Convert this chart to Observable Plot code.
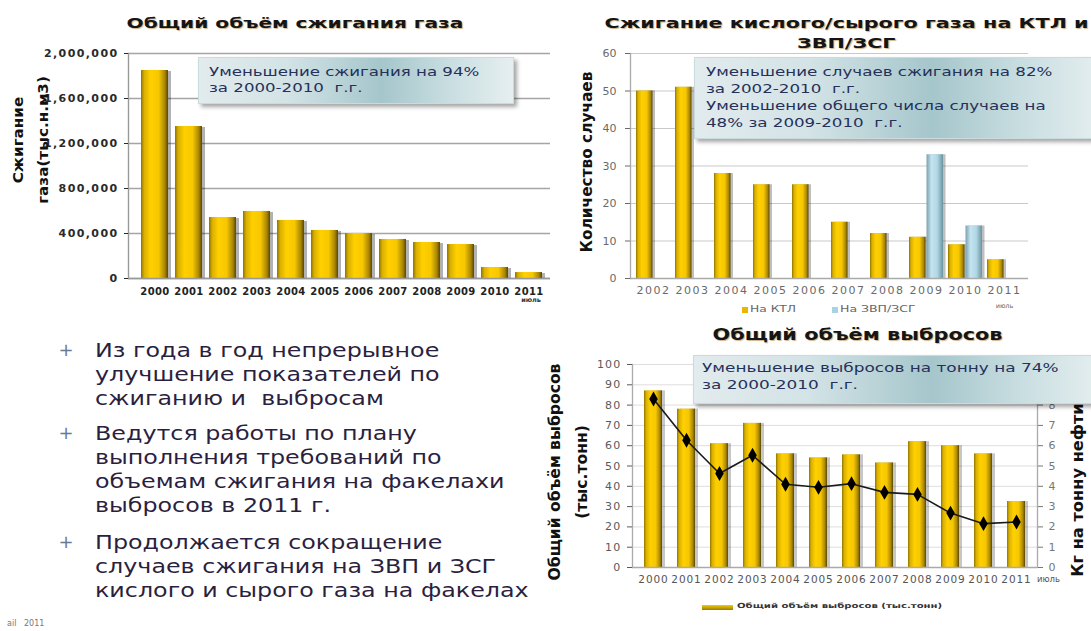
<!DOCTYPE html>
<html lang="ru"><head><meta charset="utf-8">
<script src="https://cdn.jsdelivr.net/npm/d3@7"></script>
<script src="https://cdn.jsdelivr.net/npm/@observablehq/plot@0.6"></script>
<style>
html,body{margin:0;padding:0;background:#fff;}
#page{position:relative;width:1091px;height:631px;overflow:hidden;font-family:"DejaVu Sans",Verdana,sans-serif;}
#page svg{position:absolute;}
.t{position:absolute;white-space:pre;display:inline-block;}
.title{font-weight:bold;color:#151515;font-size:14px;line-height:20px;text-align:center;text-shadow:0.7px 0.7px 0.8px rgba(150,90,0,0.45);}
.box{position:absolute;background:linear-gradient(90deg,#e2ebed 0%,#d3e3e6 28%,#a5c6cb 58%,#c9dee1 80%,#e6eff0 100%);box-shadow:3px 3px 4px rgba(0,0,0,0.35);border:1px solid #cbdadd;}
.boxtxt{color:#25315a;font-size:12.5px;}
.ylab{font-weight:bold;color:#111;text-align:center;}
.bul{color:#2b1f3f;font-size:20px;line-height:24px;}
.plus{color:#6b7a99;font-size:18px;line-height:24px;}
.leg{color:#666;font-size:8px;}
</style></head><body><div id="page"></div>
<script>
// ---------- data ----------
const gasYears = ["2000","2001","2002","2003","2004","2005","2006","2007","2008","2009","2010","2011"];
const gasVolume = [1849000,1351000,542000,596000,516000,427000,400000,347000,320000,302000,98000,53000];
const gasTicks = [0,400000,800000,1200000,1600000,2000000];
const gasNote = [{year:"2011", note:"июль"}];

const caseYears = ["2002","2003","2004","2005","2006","2007","2008","2009","2010","2011"];
const casesKTL = [50,51,28,25,25,15,12,11,9,5];
const casesZVP = [0,0,0,0,0,0,0,33,14,0];
const caseTicks = [0,10,20,30,40,50,60];
const caseSeries = ["На КТЛ","На ЗВП/ЗСГ"];
const caseNote = [{year:"2011", note:"июль"}];

const emisYears = ["2000","2001","2002","2003","2004","2005","2006","2007","2008","2009","2010","2011"];
const emisTotal = [87,78,61,71,56,54,55.5,51.5,62,60,56,32.5];
const emisPerTon = [8.3,6.27,4.63,5.53,4.1,3.95,4.13,3.7,3.6,2.68,2.16,2.24];
const emisTicks = [0,10,20,30,40,50,60,70,80,90,100];
const perTonTicks = [0,1,2,3,4,5,6,7,8];
const emisNote = [{year:"2011", note:"июль"}];

const titles = ["Общий объём сжигания газа","Сжигание кислого/сырого газа на КТЛ и","ЗВП/ЗСГ","Общий объём выбросов"];
const notes = ["Уменьшение сжигания на 94%\nза 2000-2010  г.г.",
  "Уменьшение случаев сжигания на 82%\nза 2002-2010  г.г.\nУменьшение общего числа случаев на\n48% за 2009-2010  г.г.",
  "Уменьшение выбросов на тонну на 74%\nза 2000-2010  г.г."];
const axisTitles = ["Сжигание\nгаза(тыс.н.м3)","Количество случаев","Общий объём выбросов\n(тыс.тонн)","Кг на тонну нефти"];
const legendEmis = "Общий объём выбросов (тыс.тонн)";
const bullets = ["Из года в год непрерывное\nулучшение показателей по\nсжиганию и  выбросам",
  "Ведутся работы по плану\nвыполнения требований по\nобъемам сжигания на факелахи\nвыбросов в 2011 г.",
  "Продолжается сокращение\nслучаев сжигания на ЗВП и ЗСГ\nкислого и сырого газа на факелах"];
const footer = "ail   2011";

// ---------- helpers ----------
const page = document.getElementById("page");
function gradients(svg, p){
  const defs = d3.select(svg).insert("defs", ":first-child");
  const mk = (id, stops) => {
    const g = defs.append("linearGradient").attr("id", p+id).attr("x1",0).attr("x2",1).attr("y1",0).attr("y2",0);
    stops.forEach(([o,c]) => g.append("stop").attr("offset",o).attr("stop-color",c));
  };
  mk("gold", [[0,"#8f7400"],[0.12,"#d9b000"],[0.35,"#ffd000"],[0.65,"#f7c700"],[0.88,"#a98700"],[1,"#5a4600"]]);
  mk("blue", [[0,"#79a2ae"],[0.3,"#c4e4ef"],[0.65,"#b2d7e5"],[1,"#6b93a0"]]);
}
function place(svg, left, top){ svg.style.left = left+"px"; svg.style.top = top+"px"; page.appendChild(svg); }
function spacing(svg, label, ls){ d3.select(svg).selectAll(`g[aria-label="${label}"] text`).style("letter-spacing", ls); }
function addText(txt, cls, o){
  const el = document.createElement("div");
  el.className = "t " + cls; el.textContent = txt;
  if (o.style) Object.assign(el.style, o.style);
  page.appendChild(el);
  const ow = el.offsetWidth, oh = el.offsetHeight;
  const k = o.k !== undefined ? o.k : (o.w ? o.w/ow : 1);
  if (o.rot !== undefined){
    el.style.left = (o.cx - ow/2)+"px"; el.style.top = (o.cy - oh/2)+"px";
    el.style.transformOrigin = "50% 50%"; el.style.transform = `rotate(${o.rot}deg) scaleX(${k})`;
  } else if (o.cx !== undefined){
    el.style.left = (o.cx - ow/2)+"px"; el.style.top = o.y+"px";
    el.style.transformOrigin = "50% 0"; el.style.transform = `scaleX(${k})`;
  } else {
    el.style.left = o.x+"px"; el.style.top = o.y+"px";
    el.style.transformOrigin = "0 0"; el.style.transform = `scaleX(${k})`;
  }
  return {el, k, ow};
}
const font = {fontFamily:"DejaVu Sans, Verdana, sans-serif", background:"none", overflow:"visible"};

// ---------- chart 1: gas flaring volume ----------
const gasRows = gasYears.map((year,i) => ({year, value: gasVolume[i]}));
const svg1 = Plot.plot({
  width:552, height:310, marginLeft:128, marginRight:2, marginTop:53, marginBottom:32,
  style:font,
  x:{domain:gasYears, paddingInner:0.214, paddingOuter:0, insetLeft:7, insetRight:2.5},
  y:{domain:[0,2000000]},
  marks:[
    Plot.gridY(gasTicks,{stroke:"#a5a5a5", strokeOpacity:1, strokeWidth:1.3}),
    Plot.barY(gasRows,{x:"year", y:"value", fill:"#000", fillOpacity:0.3, dx:3, dy:1}),
    Plot.barY(gasRows,{x:"year", y:"value", fill:"url(#c1gold)"}),
    Plot.ruleY([0],{stroke:"#999", strokeWidth:1.4}),
    Plot.frame({anchor:"left", stroke:"#999", strokeWidth:1.4}),
    Plot.axisY(gasTicks,{tickFormat:d3.format(","), tickSize:4, tickPadding:6, fontWeight:"bold", fontSize:11, color:"#2a2a2a", label:null}),
    Plot.axisX({tickSize:0, tickPadding:9, fontWeight:"bold", fontSize:10, color:"#222", label:null}),
    Plot.text(gasNote,{x:"year", text:"note", frameAnchor:"bottom", dy:23, dx:2, fontSize:6.5, fontWeight:"bold", fill:"#333"})
  ]
});
gradients(svg1, "c1");
spacing(svg1, "y-axis tick label", "1.4px");
spacing(svg1, "x-axis tick label", "0.4px");
place(svg1, 0, 0);

// ---------- chart 2: sour/raw gas flaring cases ----------
const ktlRows = caseYears.map((year,i) => ({year, series:caseSeries[0], value:casesKTL[i]})).filter(d => d.value > 0);
const zvpRows = caseYears.map((year,i) => ({year, series:caseSeries[1], value:casesZVP[i]})).filter(d => d.value > 0);
const svg2 = Plot.plot({
  width:531, height:320, marginLeft:70, marginRight:63, marginTop:53, marginBottom:42,
  style:font,
  x:{domain:caseYears, paddingInner:0.12, paddingOuter:0.06},
  y:{domain:[0,60]},
  marks:[
    Plot.gridY(caseTicks,{stroke:"#c9c9c9", strokeOpacity:1, strokeWidth:1.2}),
    Plot.barY(ktlRows,{x:"year", y:"value", insetRight:17.5, fill:"#000", fillOpacity:0.25, dx:2.5}),
    Plot.barY(zvpRows,{x:"year", y:"value", insetLeft:17.5, fill:"#000", fillOpacity:0.25, dx:2.5}),
    Plot.barY(ktlRows,{x:"year", y:"value", insetRight:17.5, fill:"url(#c2gold)"}),
    Plot.barY(zvpRows,{x:"year", y:"value", insetLeft:17.5, fill:"url(#c2blue)"}),
    Plot.ruleY([0],{stroke:"#aaa", strokeWidth:1.3}),
    Plot.frame({anchor:"left", stroke:"#aaa", strokeWidth:1.3}),
    Plot.axisY(caseTicks,{tickSize:5, tickPadding:9, fontSize:11, color:"#6a6a6a", label:null}),
    Plot.axisX({tickSize:0, tickPadding:8, fontSize:11, color:"#6a6a6a", label:null}),
    Plot.text(caseNote,{x:"year", text:"note", frameAnchor:"bottom", dy:29, dx:0, fontSize:6.5, fill:"#666"})
  ]
});
gradients(svg2, "c2");
spacing(svg2, "x-axis tick label", "1.5px");
place(svg2, 560, 0);

// ---------- chart 3: total emissions ----------
const emisRows = emisYears.map((year,i) => ({year, total:emisTotal[i], perTon:emisPerTon[i]}));
const svg3 = Plot.plot({
  width:551, height:301, marginLeft:92, marginRight:54, marginTop:34, marginBottom:64,
  style:font,
  x:{domain:emisYears, paddingInner:0.45, paddingOuter:0.215},
  y:{domain:[0,100]},
  marks:[
    Plot.gridY(emisTicks,{stroke:"#dedede", strokeOpacity:1}),
    Plot.barY(emisRows,{x:"year", y:"total", fill:"#000", fillOpacity:0.22, dx:3}),
    Plot.barY(emisRows,{x:"year", y:"total", fill:"url(#c3gold)"}),
    Plot.ruleY([0],{stroke:"#aaa", strokeWidth:1.3}),
    Plot.frame({anchor:"left", stroke:"#aaa", strokeWidth:1.3}),
    Plot.frame({anchor:"right", stroke:"#aaa", strokeWidth:1.3}),
    Plot.line(emisRows,{x:"year", y:d => d.perTon*10, stroke:"#1a1a1a", strokeWidth:1.6}),
    Plot.dot(emisRows,{x:"year", y:d => d.perTon*10, fill:"#000", r:4.5, symbol:"diamond"}),
    Plot.axisY(emisTicks,{tickSize:5, tickPadding:6, fontSize:11, color:"#5a5a5a", label:null}),
    Plot.axisY(perTonTicks.map(d => d*10),{anchor:"right", tickFormat:d => d/10, tickSize:5, tickPadding:6, fontSize:11, color:"#777", label:null}),
    Plot.axisX({tickSize:0, tickPadding:8, fontSize:10.5, color:"#555", label:null}),
    Plot.text(emisNote,{x:"year", text:"note", frameAnchor:"bottom", dy:14, dx:32, fontSize:8.5, fill:"#555"})
  ]
});
gradients(svg3, "c3");
spacing(svg3, "x-axis tick label", "0.9px");
spacing(svg3, "y-axis tick label", "1.2px");
place(svg3, 540, 330);

// ---------- titles ----------
addText(titles[0], "title", {cx:295, y:13, w:337});
const t2 = addText(titles[1], "title", {cx:846, y:13, w:484});
addText(titles[2], "title", {cx:846, y:33, k:t2.k});
addText(titles[3], "title", {cx:857, y:325, w:290, style:{fontSize:"15px"}});

// ---------- axis titles ----------
addText(axisTitles[0], "ylab", {cx:31, cy:140, rot:-90, w:128, style:{fontSize:"14px", lineHeight:"25px"}});
addText(axisTitles[1], "ylab", {cx:587, cy:162, rot:-90, w:181, style:{fontSize:"15px", lineHeight:"20px"}});
addText(axisTitles[2], "ylab", {cx:568, cy:472, rot:-90, w:217, style:{fontSize:"16px", lineHeight:"27px"}});
addText(axisTitles[3], "ylab", {cx:1078, cy:490, rot:-90, w:173, style:{fontSize:"15px", lineHeight:"20px"}});

// ---------- note boxes ----------
function box(x, y, w, h){ const b = document.createElement("div"); b.className = "box"; Object.assign(b.style,{left:x+"px", top:y+"px", width:w+"px", height:h+"px"}); page.appendChild(b); }
box(198, 57, 314, 45);
addText(notes[0], "boxtxt", {x:209, y:64, w:270, style:{lineHeight:"16px"}});
box(694, 57, 410, 80);
addText(notes[1], "boxtxt", {x:706, y:63, w:347, style:{lineHeight:"17px"}});
box(693, 355, 410, 47);
addText(notes[2], "boxtxt", {x:702, y:359, w:356, style:{lineHeight:"17px", fontSize:"13px"}});

// ---------- legends ----------
function swatch(x, y, w, h, bg){ const s = document.createElement("div"); Object.assign(s.style,{position:"absolute", left:x+"px", top:y+"px", width:w+"px", height:h+"px", background:bg}); page.appendChild(s); }
swatch(742, 307, 6, 6, "#e8b800");
addText(caseSeries[0], "leg", {x:750, y:305, w:46});
swatch(832, 307, 6, 6, "#a9d3e2");
addText(caseSeries[1], "leg", {x:840, y:305, w:75});
swatch(702, 605, 31, 5, "linear-gradient(180deg,#f5cc00,#9c7d00)");
addText(legendEmis, "leg", {x:737, y:602, w:205, style:{color:"#333", fontWeight:"bold", fontSize:"7px"}});

// ---------- bullet text ----------
const bulletTops = [338, 421, 530];
const ref = addText(bullets[2], "bul", {x:95, y:bulletTops[2], w:434});
addText(bullets[0], "bul", {x:95, y:bulletTops[0], k:ref.k});
addText(bullets[1], "bul", {x:95, y:bulletTops[1], k:ref.k});
bulletTops.forEach(t => addText("+", "plus", {cx:66, y:t}));
addText(footer, "leg", {x:7, y:619, style:{color:"#777", fontSize:"8px"}});
</script></body></html>
